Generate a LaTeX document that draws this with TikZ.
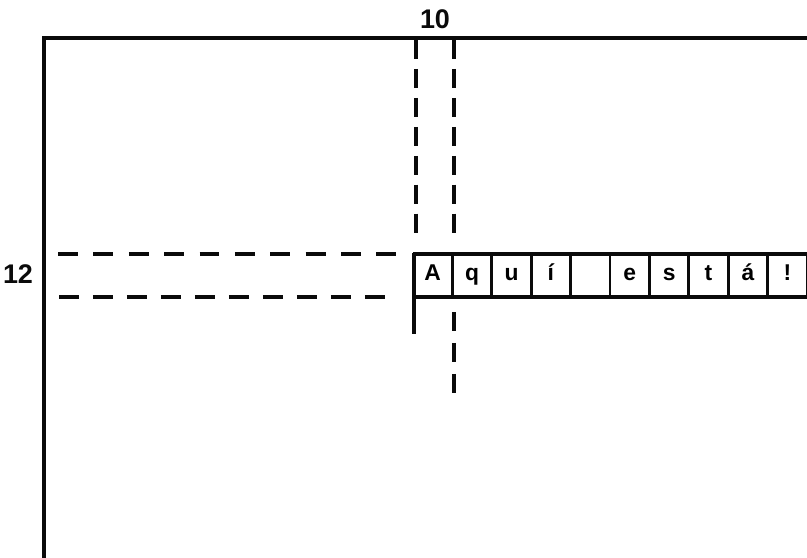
\documentclass[tikz,border=0pt]{standalone}
\usepackage{fontspec}
\setmainfont{Liberation Sans}
\usetikzlibrary{positioning}
\definecolor{tela-tinta}{HTML}{0A0A0A}

\begin{document}
\begin{tikzpicture}[x=0.03cm, y=-0.03cm,
    moldura/.style={tela-tinta, line width=3.8pt, line join=miter},
    guia/.style={tela-tinta, line width=3.6pt},
    celula/.style={draw=tela-tinta, line width=2.4pt, minimum width=1.182cm,
        minimum height=1.29cm, inner sep=0pt, text height=0.72em, text depth=0pt,
        font=\fontsize{19.5}{22}\selectfont\bfseries},
    rotulo/.style={tela-tinta, font=\fontsize{23}{26}\selectfont\bfseries}]

    % Area da folha (margens incluidas)
    \useasboundingbox (0,0) rectangle (807,558);

    % Bordas superior e esquerda da tela
    \draw[moldura] (807,38) -- (44,38) -- (44,558);

    % Rotulos de coluna e de linha
    \node[rotulo] (col) at (435,19) {10};
    \node[rotulo] (lin) at (18,274) {12};

    % Guias da coluna 10 (tracejado vertical)
    \draw[guia, dash pattern=on 16.6pt off 8.1pt] (416,40) -- (416,236);
    \draw[guia, dash pattern=on 16.6pt off 8.1pt] (454,40) -- (454,236);
    \draw[guia, dash pattern=on 16.2pt off 10.2pt] (454,312) -- (454,394);

    % Guias da linha 12 (tracejado horizontal)
    \draw[guia, dash pattern=on 17pt off 13.2pt] (58,254) -- (398,254);
    \draw[guia, dash pattern=on 17.4pt off 11.6pt] (59,297) -- (389,297);

    % Caixas dos caracteres da mensagem
    \foreach \l [count=\i] in {A,q,u,í,{},e,s,t,á,!}
        \node[celula] (c\i) at ({413+39.4*(\i-0.5)},276) {\l};

    % Contorno grosso da linha de texto
    \draw[moldura] (413,254) -- (807,254);
    \draw[moldura] (413,297) -- (807,297);
    \draw[moldura] (414,254) -- (414,334);

\end{tikzpicture}
\end{document}
